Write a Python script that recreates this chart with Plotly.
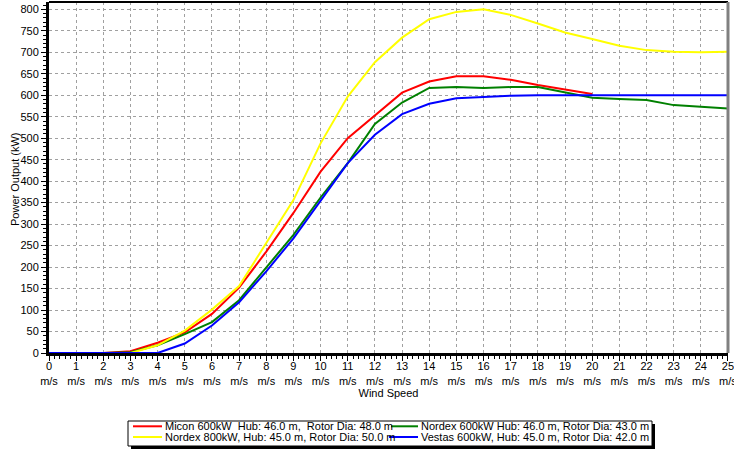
import plotly.graph_objects as go

speeds = list(range(0, 26))
tick_labels = [f"{v}<br>m/s" for v in speeds]

micon_600 = [0, 0, 0, 4, 24, 48, 91, 152, 236, 326, 422, 500, 554, 606, 632, 644, 644, 636, 624, 614, 603]
nordex_600 = [0, 0, 0, 2, 18, 44, 72, 123, 198, 275, 362, 442, 533, 583, 617, 619, 617, 619, 619, 606, 594, 591, 589, 577, 573, 569]
nordex_800 = [0, 0, 0, 0, 18, 52, 101, 156, 256, 356, 488, 597, 677, 734, 777, 794, 800, 787, 767, 746, 731, 715, 705, 701, 700, 701]
vestas_600 = [0, 0, 0, 0, 0, 22, 64, 118, 190, 267, 355, 442, 508, 556, 580, 593, 596, 599, 600, 600, 600, 600, 600, 600, 600, 600]

names = [
    "Micon 600kW\u00a0\u00a0Hub: 46.0 m,\u00a0\u00a0Rotor Dia: 48.0 m",
    "Nordex 600kW Hub: 46.0 m, Rotor Dia: 43.0 m",
    "Nordex 800kW, Hub: 45.0 m, Rotor Dia: 50.0 m",
    "Vestas 600kW, Hub: 45.0 m, Rotor Dia: 42.0 m",
]
series = [micon_600, nordex_600, nordex_800, vestas_600]
colors = ["#ff0000", "#008000", "#ffff00", "#0000ff"]

W, H = 734, 453
ML, MR, MT, MB = 49, 6, 2, 100
PW, PH = W - ML - MR, H - MT - MB


def px(x):
    return (x - ML) / PW


def py(y):
    return (H - MB - y) / PH


fig = go.Figure()
for name, vals, col in zip(names, series, colors):
    fig.add_trace(go.Scatter(
        x=speeds[:len(vals)], y=vals, mode="lines", name=name,
        line=dict(color=col, width=2), showlegend=False,
    ))

font = dict(family="Liberation Sans, Arial, sans-serif", size=11, color="black")

shapes = [
    dict(type="line", xref="paper", yref="paper", x0=0, x1=1, y0=1, y1=1,
         line=dict(color="black", width=2)),
    dict(type="line", xref="paper", yref="paper", x0=1, x1=1, y0=0, y1=1,
         line=dict(color="#808080", width=3)),
    # legend shadow and box
    dict(type="rect", xref="paper", yref="paper", x0=px(131), x1=px(655), y0=py(424), y1=py(449),
         fillcolor="black", line=dict(width=0)),
    dict(type="rect", xref="paper", yref="paper", x0=px(128), x1=px(652), y0=py(421), y1=py(446),
         fillcolor="white", line=dict(color="black", width=1)),
]
annotations = [
    dict(text="Power Output (kW)", xref="paper", yref="paper", x=px(15), y=py(179),
         textangle=-90, showarrow=False, xanchor="center", yanchor="middle",
         font=dict(size=11)),
]
# manual legend laid out row-wise (red, green / yellow, blue)
leg_pos = [(133, 162, 165, 426.3, 425.8), (391, 418, 421, 426.3, 425.8),
           (133, 162, 165, 437, 436.8), (389, 418, 421, 437, 436.8)]
for (lx0, lx1, tx, ly, ty), name, col in zip(leg_pos, names, colors):
    shapes.append(dict(type="line", xref="paper", yref="paper", x0=px(lx0), x1=px(lx1),
                       y0=py(ly), y1=py(ly), line=dict(color=col, width=2)))
    annotations.append(dict(text=name, xref="paper", yref="paper", x=px(tx - 1), y=py(ty),
                            showarrow=False, xanchor="left", yanchor="middle",
                            font=dict(size=11), borderpad=0))

fig.update_layout(
    width=W, height=H,
    margin=dict(l=ML, r=MR, t=MT, b=MB, autoexpand=False),
    paper_bgcolor="white", plot_bgcolor="white",
    font=font,
    showlegend=False,
    xaxis=dict(
        range=[0, 25.001], tickmode="array", tickvals=speeds, ticktext=tick_labels,
        showgrid=True, gridcolor="#a0a0a0", griddash="dot", gridwidth=1,
        showline=True, linecolor="black", linewidth=3,
        ticks="outside", ticklen=5, tickcolor="black", tickwidth=1,
        minor=dict(dtick=0.2, ticks="outside", ticklen=3, tickcolor="black", showgrid=False),
        zeroline=False, automargin=False, ticklabeloverflow="allow",
        ticklabelstandoff=-4,
        title=dict(text="Wind Speed", font=dict(size=11), standoff=4),
    ),
    yaxis=dict(
        range=[0, 817], tickmode="array", tickvals=list(range(0, 801, 50)),
        showgrid=True, gridcolor="#a0a0a0", griddash="dot", gridwidth=1,
        showline=True, linecolor="black", linewidth=3,
        ticks="outside", ticklen=5, tickcolor="black", tickwidth=1,
        minor=dict(dtick=10, ticks="outside", ticklen=3, tickcolor="black", showgrid=False),
        zeroline=False, automargin=False, ticklabeloverflow="allow",
    ),
    shapes=shapes,
    annotations=annotations,
)

fig.write_html(
    "out.html",
    config={"displayModeBar": False},
    post_script="document.body.style.margin='0';document.body.style.padding='0';document.body.style.overflow='hidden';",
)
